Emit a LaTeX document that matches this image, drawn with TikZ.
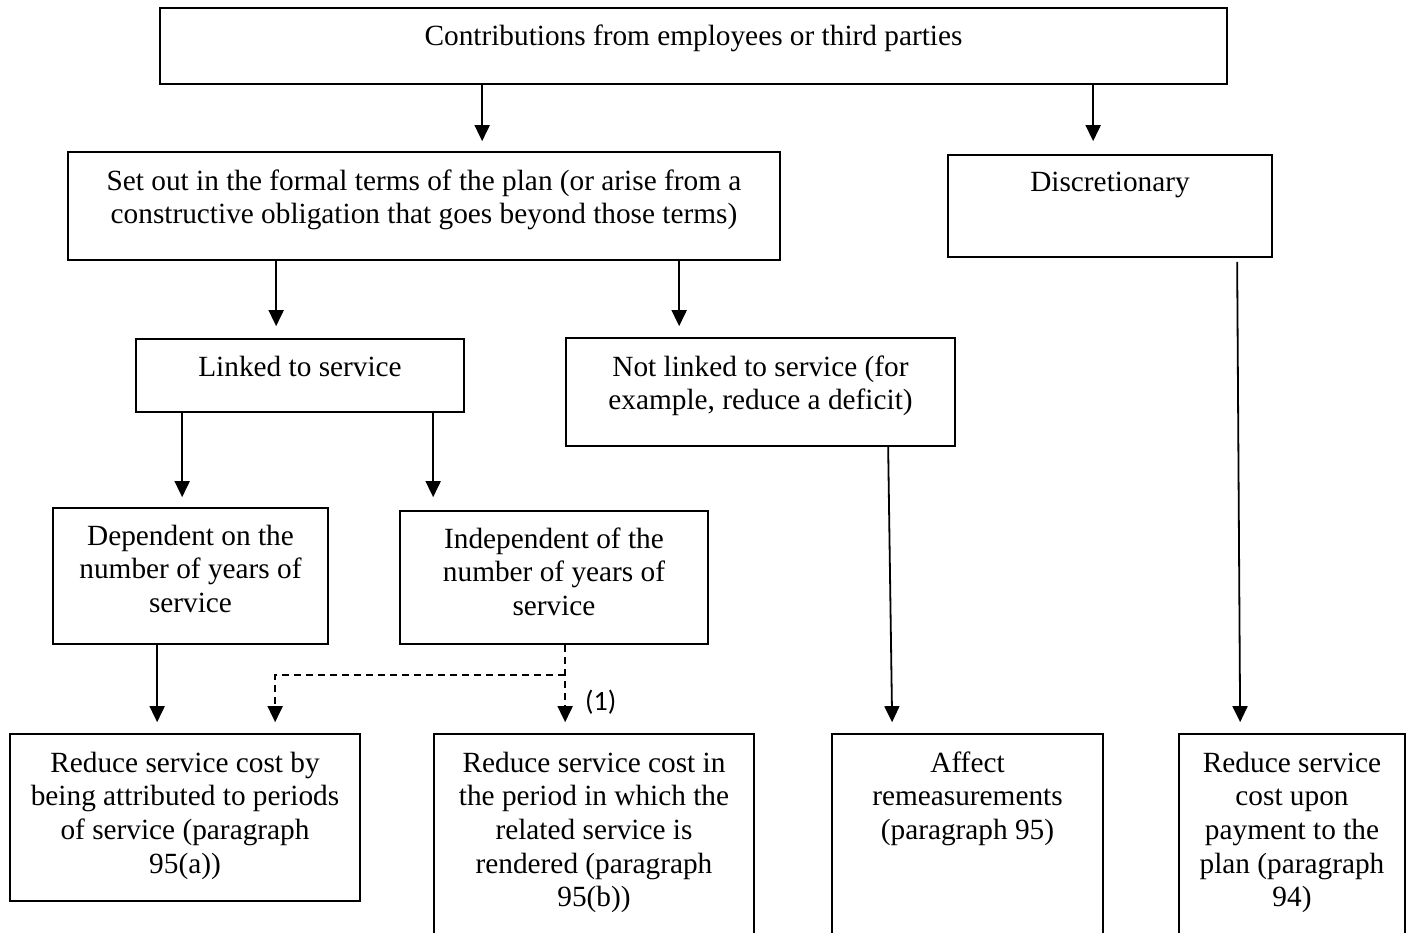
\documentclass[tikz,border=0pt]{standalone}
\usepackage{fontspec}
\setmainfont{Liberation Serif}
\newfontfamily\calfont{Carlito}
\usetikzlibrary{arrows.meta,calc}
\newcommand{\mlines}[1]{\begin{tabular}[t]{@{}c@{}}#1\end{tabular}}
\begin{document}
\begin{tikzpicture}[x=1pt,y=-1pt,
  box/.style={draw, line width=1.7pt, rectangle, inner sep=0pt},
  txt/.style={anchor=base, inner sep=0pt, font=\fontsize{29.3}{33.7}\selectfont},
  arr/.style={line width=1.8pt, -{Triangle[width=15pt,length=16pt]}},
  darr/.style={arr, dash pattern=on 7pt off 5pt}]
\useasboundingbox (0,0) rectangle (1411,933);
\clip (0,0) rectangle (1411,933);
\fill[white] (0,0) rectangle (1411,933);

% boxes
\node[box, minimum width=1067pt, minimum height=76pt] (top) at (693.5,46) {};
\node[box, minimum width=712pt, minimum height=108pt] (setout) at (424,206) {};
\node[box, minimum width=324pt, minimum height=102pt] (disc) at (1110,206) {};
\node[box, minimum width=328pt, minimum height=73pt] (linked) at (300,375.5) {};
\node[box, minimum width=389pt, minimum height=108pt] (notlinked) at (760.5,392) {};
\node[box, minimum width=275pt, minimum height=136pt] (dependent) at (190.5,576) {};
\node[box, minimum width=308pt, minimum height=133pt] (independent) at (554,577.5) {};
\node[box, minimum width=350pt, minimum height=167pt] (b1) at (185,817.5) {};
\node[box, minimum width=320pt, minimum height=236pt] (b2) at (594,852) {};
\node[box, minimum width=271pt, minimum height=236pt] (b3) at (967.5,852) {};
\node[box, minimum width=226pt, minimum height=236pt] (b4) at (1292,852) {};

% texts
\node[txt] (ttop) at ($(top.north)+(0,38)$) {Contributions from employees or third parties};
\node[txt] (tsetout) at ($(setout.north)+(0,39)$) {\mlines{Set out in the formal terms of the plan (or arise from a\\constructive obligation that goes beyond those terms)}};
\node[txt] (tdisc) at ($(disc.north)+(0,37)$) {Discretionary};
\node[txt] (tlinked) at ($(linked.north)+(0,38)$) {Linked to service};
\node[txt] (tnotlinked) at ($(notlinked.north)+(0,39)$) {\mlines{Not linked to service (for\\example, reduce a deficit)}};
\node[txt] (tdependent) at ($(dependent.north)+(0,38)$) {\mlines{Dependent on the\\number of years of\\service}};
\node[txt] (tindependent) at ($(independent.north)+(0,38)$) {\mlines{Independent of the\\number of years of\\service}};
\node[txt] (tb1) at ($(b1.north)+(0,39)$) {\mlines{Reduce service cost by\\being attributed to periods\\of service (paragraph\\95(a))}};
\node[txt] (tb2) at ($(b2.north)+(0,39)$) {\mlines{Reduce service cost in\\the period in which the\\related service is\\rendered (paragraph\\95(b))}};
\node[txt] (tb3) at ($(b3.north)+(0,39)$) {\mlines{Affect\\remeasurements\\(paragraph 95)}};
\node[txt] (tb4) at ($(b4.north)+(0,39)$) {\mlines{Reduce service\\cost upon\\payment to the\\plan (paragraph\\94)}};

% connectors
\draw[arr] ($(top.south west)+(323,0)$) -- ($(setout.north west)+(415,-10)$);
\draw[arr] ($(top.south west)+(934,0)$) -- ($(disc.north west)+(146,-13)$);
\draw[arr] ($(setout.south west)+(209,0)$) -- ($(linked.north west)+(141,-12)$);
\draw[arr] ($(setout.south west)+(612,0)$) -- ($(notlinked.north west)+(114,-11)$);
\draw[arr] ($(linked.south west)+(47,0)$) -- ($(dependent.north west)+(130,-10)$);
\draw[arr] ($(linked.south west)+(298,0)$) -- ($(independent.north west)+(34,-13)$);
\draw[arr] ($(notlinked.south west)+(323,0)$) -- ($(b3.north west)+(61,-11)$);
\draw[arr] ($(disc.south west)+(290,4)$) -- ($(b4.north west)+(62,-11)$);
\draw[arr] ($(dependent.south west)+(105,0)$) -- ($(b1.north west)+(148,-11)$);
\draw[darr] ($(independent.south west)+(166,0)$) -- ($(b2.north west)+(132,-11)$);
\coordinate (split) at ($(independent.south west)+(166,30)$);
\draw[darr] (split) -| ($(b1.north west)+(266,-11)$);
\node[anchor=base west, inner sep=0pt, font=\calfont\fontsize{28}{32}\selectfont] (lbl) at (585,710) {(1)};
\end{tikzpicture}
\end{document}
